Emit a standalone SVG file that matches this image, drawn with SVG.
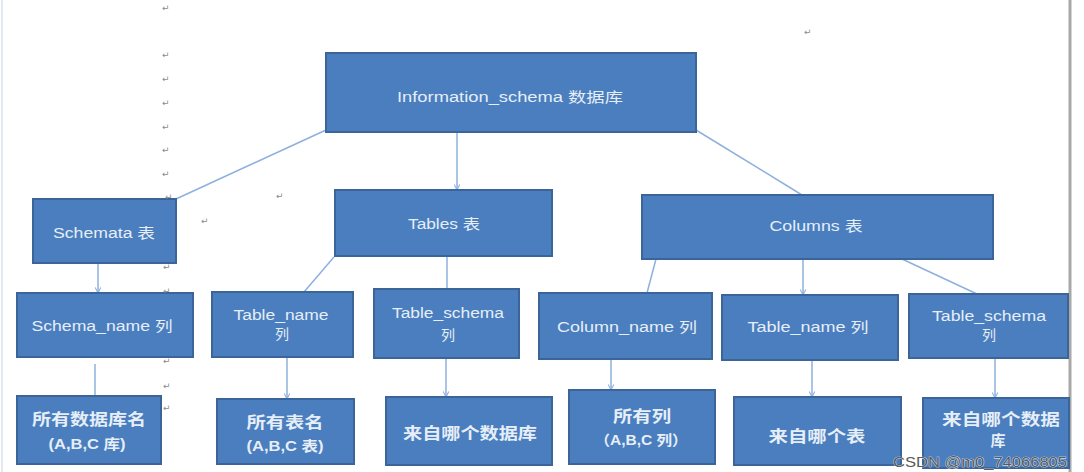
<svg xmlns="http://www.w3.org/2000/svg" width="1084" height="472" viewBox="0 0 1084 472">
<defs>
<style>
.box{fill:#4a7ebe;stroke:#3b6498;stroke-width:2}
.t{fill:#e6eef8;font-family:"Liberation Sans","Noto Sans CJK SC",sans-serif;font-size:14px;text-anchor:middle;dominant-baseline:central}
.c{fill:#e6eef8;font-family:"Noto Sans CJK SC","Liberation Sans",sans-serif;font-size:16px;font-weight:bold;text-anchor:middle;dominant-baseline:central}
.ln{stroke:#8eb0de;stroke-width:1.5;fill:none}
.pm{fill:#8a8a8a;font-family:"DejaVu Sans",sans-serif;font-size:9px}
</style>
<marker id="ar" viewBox="0 0 10 10" refX="9" refY="5" markerWidth="7" markerHeight="7" orient="auto" markerUnits="userSpaceOnUse">
<path d="M1,1 L9,5 L1,9" fill="none" stroke="#8eb0de" stroke-width="1.5"/>
</marker>
</defs>
<rect x="0" y="0" width="1084" height="472" fill="#ffffff"/>
<line x1="2" y1="0" x2="2" y2="472" stroke="#e4e8f0" stroke-width="2"/>
<line x1="1070" y1="0" x2="1070" y2="472" stroke="#a8a8a8" stroke-width="3"/>

<g id="connectors">
<line class="ln" x1="326" y1="130" x2="176" y2="199"/>
<line class="ln" x1="457" y1="133" x2="457" y2="190" marker-end="url(#ar)"/>
<line class="ln" x1="696" y1="130" x2="802" y2="195"/>
<line class="ln" x1="98" y1="263" x2="98" y2="293" marker-end="url(#ar)"/>
<line class="ln" x1="334" y1="257" x2="304" y2="292"/>
<line class="ln" x1="447" y1="256" x2="447" y2="289"/>
<line class="ln" x1="656" y1="259" x2="647" y2="293"/>
<line class="ln" x1="803" y1="259" x2="803" y2="295" marker-end="url(#ar)"/>
<line class="ln" x1="902" y1="259" x2="977" y2="294"/>
<line class="ln" x1="95" y1="364" x2="95" y2="396"/>
<line class="ln" x1="287" y1="357" x2="287" y2="399" marker-end="url(#ar)"/>
<line class="ln" x1="446" y1="358" x2="446" y2="397" marker-end="url(#ar)"/>
<line class="ln" x1="611" y1="359" x2="611" y2="390" marker-end="url(#ar)"/>
<line class="ln" x1="812" y1="360" x2="812" y2="397" marker-end="url(#ar)"/>
<line class="ln" x1="995" y1="358" x2="995" y2="398" marker-end="url(#ar)"/>
</g>

<g id="info">
<rect class="box" x="326" y="53" width="370" height="79"/>
<text class="t" x="510" y="97" textLength="226" lengthAdjust="spacingAndGlyphs">Information_schema 数据库</text>
</g>
<g id="schemata">
<rect class="box" x="33" y="199" width="143" height="64"/>
<text class="t" x="104" y="233" textLength="102" lengthAdjust="spacingAndGlyphs">Schemata 表</text>
</g>
<g id="tables">
<rect class="box" x="335" y="190" width="217" height="66"/>
<text class="t" x="444" y="224" textLength="72" lengthAdjust="spacingAndGlyphs">Tables 表</text>
</g>
<g id="columns">
<rect class="box" x="642" y="195" width="351" height="64"/>
<text class="t" x="816" y="226" textLength="93" lengthAdjust="spacingAndGlyphs">Columns 表</text>
</g>

<g id="schema_name">
<rect class="box" x="17" y="293" width="176" height="64"/>
<text class="t" x="102" y="326" textLength="141" lengthAdjust="spacingAndGlyphs">Schema_name 列</text>
</g>
<g id="table_name_l">
<rect class="box" x="212" y="292" width="141" height="65"/>
<text class="t" x="281" y="315" textLength="95" lengthAdjust="spacingAndGlyphs">Table_name</text>
<text class="t" x="282" y="334">列</text>
</g>
<g id="table_schema_l">
<rect class="box" x="374" y="289" width="145" height="69"/>
<text class="t" x="448" y="313" textLength="112" lengthAdjust="spacingAndGlyphs">Table_schema</text>
<text class="t" x="448" y="335">列</text>
</g>
<g id="column_name">
<rect class="box" x="539" y="293" width="173" height="66"/>
<text class="t" x="627" y="327" textLength="140" lengthAdjust="spacingAndGlyphs">Column_name 列</text>
</g>
<g id="table_name_r">
<rect class="box" x="722" y="295" width="176" height="65"/>
<text class="t" x="808" y="327" textLength="121" lengthAdjust="spacingAndGlyphs">Table_name 列</text>
</g>
<g id="table_schema_r">
<rect class="box" x="909" y="294" width="159" height="64"/>
<text class="t" x="989" y="316" textLength="114" lengthAdjust="spacingAndGlyphs">Table_schema</text>
<text class="t" x="989" y="335">列</text>
</g>

<g id="all_db">
<rect class="box" x="17" y="396" width="144" height="68"/>
<text class="c" x="89" y="418" textLength="114" lengthAdjust="spacingAndGlyphs">所有数据库名</text>
<text class="t" x="87" y="444" font-weight="bold" textLength="77" lengthAdjust="spacingAndGlyphs">(A,B,C 库)</text>
</g>
<g id="all_tables">
<rect class="box" x="217" y="399" width="137" height="65"/>
<text class="c" x="285" y="421" textLength="77" lengthAdjust="spacingAndGlyphs">所有表名</text>
<text class="t" x="285" y="446" font-weight="bold" textLength="77" lengthAdjust="spacingAndGlyphs">(A,B,C 表)</text>
</g>
<g id="from_db_l">
<rect class="box" x="386" y="397" width="166" height="68"/>
<text class="c" x="470" y="432" textLength="134" lengthAdjust="spacingAndGlyphs">来自哪个数据库</text>
</g>
<g id="all_cols">
<rect class="box" x="569" y="390" width="146" height="74"/>
<text class="c" x="642" y="415" textLength="58" lengthAdjust="spacingAndGlyphs">所有列</text>
<text class="t" x="641" y="440" font-weight="bold" textLength="93" lengthAdjust="spacingAndGlyphs">（A,B,C 列）</text>
</g>
<g id="from_table">
<rect class="box" x="734" y="397" width="167" height="68"/>
<text class="c" x="817" y="435" textLength="97" lengthAdjust="spacingAndGlyphs">来自哪个表</text>
</g>
<g id="from_db_r">
<rect class="box" x="923" y="398" width="146" height="70"/>
<text class="c"><tspan x="1001" y="418" textLength="118" lengthAdjust="spacingAndGlyphs">来自哪个数据</tspan><tspan x="998" y="439" font-size="15">库</tspan></text>
</g>

<g id="marks">
<text class="pm" x="162" y="11">↵</text>
<text class="pm" x="162" y="58">↵</text>
<text class="pm" x="162" y="82">↵</text>
<text class="pm" x="162" y="106">↵</text>
<text class="pm" x="162" y="130">↵</text>
<text class="pm" x="162" y="153">↵</text>
<text class="pm" x="162" y="177">↵</text>
<text class="pm" x="165" y="200">↵</text>
<text class="pm" x="276" y="199">↵</text>
<text class="pm" x="201" y="224">↵</text>
<text class="pm" x="163" y="270">↵</text>
<text class="pm" x="163" y="294">↵</text>
<text class="pm" x="163" y="364">↵</text>
<text class="pm" x="163" y="389">↵</text>
<text class="pm" x="163" y="411">↵</text>
<text class="pm" x="804" y="35">↵</text>
</g>

<text x="893" y="467" fill="#5a5a5a" stroke="#ffffff" stroke-width="0.6" paint-order="stroke" font-family="Liberation Sans, sans-serif" font-size="14" textLength="174" lengthAdjust="spacingAndGlyphs">CSDN @m0_74066805</text>
</svg>
